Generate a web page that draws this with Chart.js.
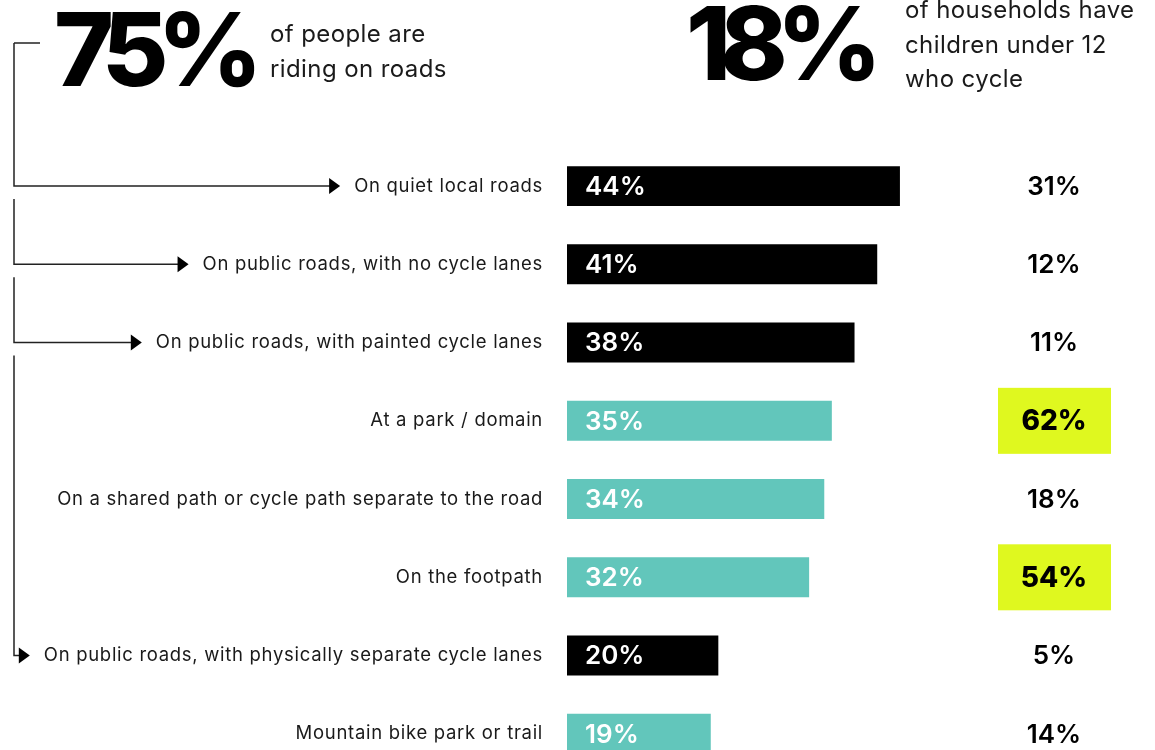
<!DOCTYPE html>
<html lang="en">
<head>
  <meta charset="UTF-8" />
  <title>Where people ride</title>
  <script src="https://cdn.jsdelivr.net/npm/chart.js@4.4.0/dist/chart.umd.min.js"></script>
  <style>
    * { margin: 0; padding: 0; box-sizing: border-box; }
    html, body { width: 1155px; height: 750px; overflow: hidden; background: #fff; font-family: 'Inter', 'Lato', sans-serif; color: #111; }
    #wrap { position: relative; width: 1155px; height: 808px; }
    canvas { position: absolute; left: 0; top: 0; }
    .big { position: absolute; font-size: 102px; font-weight: 800; line-height: 1; letter-spacing: -11px; color: #000; }
    .sub { position: absolute; font-size: 24px; line-height: 34.5px; letter-spacing: 0.4px; color: #1a1a1a; }
  </style>
</head>
<body>
  <div id="wrap">
    <canvas id="chart" width="1155" height="808"></canvas>
    <div class="big" style="left:54px; top:-2px;">75%</div>
    <div class="sub" style="left:270px; top:17px;">of people are<br>riding on roads</div>
    <div class="big" style="left:686px; top:-8px;">18%</div>
    <div class="sub" style="left:905px; top:-7px;">of households have<br>children under 12<br>who cycle</div>
  </div>

  <script>
    const categories = [
      "On quiet local roads",
      "On public roads, with no cycle lanes",
      "On public roads, with painted cycle lanes",
      "At a park / domain",
      "On a shared path or cycle path separate to the road",
      "On the footpath",
      "On public roads, with physically separate cycle lanes",
      "Mountain bike park or trail"
    ];
    const peopleRiding = [44, 41, 38, 35, 34, 32, 20, 19];
    const childrenCycling = [31, 12, 11, 62, 18, 54, 5, 14];
    const onRoad = [true, true, true, false, false, false, true, false];
    const highlighted = [false, false, false, true, false, true, false, false];

    const BLACK = "#000000";
    const TEAL = "#62c6bb";
    const LIME = "#dff81f";
    const LABEL_SIZE = 18.5;
    const LABEL_SPACING = "0.7px";

    function arrow(ctx, tipX, y) {
      ctx.beginPath();
      ctx.moveTo(tipX, y);
      ctx.lineTo(tipX - 11, y - 8);
      ctx.lineTo(tipX - 11, y + 8);
      ctx.closePath();
      ctx.fill();
    }

    const annotations = {
      id: "annotations",
      beforeDraw(chart) {
        chart.ctx.letterSpacing = LABEL_SPACING;
      },
      afterDatasetsDraw(chart) {
        const ctx = chart.ctx;
        const meta = chart.getDatasetMeta(0);
        const yScale = chart.scales.y;

        ctx.save();
        ctx.letterSpacing = "0px";
        // values inside bars
        ctx.textBaseline = "middle";
        ctx.textAlign = "left";
        ctx.fillStyle = "#fff";
        ctx.font = "600 26px Inter, Lato, sans-serif";
        meta.data.forEach((bar, i) => {
          const p = bar.getProps(["x", "y", "base"], true);
          ctx.fillText(peopleRiding[i] + "%", p.base + 18, p.y + 1);
        });

        // right column: households with children
        const colX = chart.chartArea.right + 33;
        meta.data.forEach((bar, i) => {
          const y = bar.getProps(["y"], true).y;
          ctx.textAlign = "center";
          if (highlighted[i]) {
            ctx.fillStyle = LIME;
            ctx.fillRect(colX - 56, y - 33, 113, 66);
            ctx.fillStyle = "#000";
            ctx.font = "800 28px Inter, Lato, sans-serif";
          } else {
            ctx.fillStyle = "#000";
            ctx.font = "600 26px Inter, Lato, sans-serif";
          }
          ctx.fillText(childrenCycling[i] + "%", colX, y + 1);
        });

        // bracket lines from the 75% figure to the road rows
        ctx.strokeStyle = "#222";
        ctx.fillStyle = "#000";
        ctx.lineWidth = 1.5;
        ctx.font = LABEL_SIZE + "px Inter, Lato, sans-serif";
        ctx.letterSpacing = LABEL_SPACING;
        const lineX = 14;
        let startY = 43;
        ctx.beginPath();
        ctx.moveTo(40, startY);
        ctx.lineTo(lineX, startY);
        ctx.stroke();
        const roadRows = onRoad.map((r, i) => r ? i : -1).filter(i => i >= 0);
        roadRows.forEach((i, k) => {
          const y = yScale.getPixelForValue(i);
          const labelLeft = chart.chartArea.left - 24 - ctx.measureText(categories[i]).width;
          const tipX = labelLeft - 14;
          ctx.beginPath();
          ctx.moveTo(lineX, k === 0 ? startY : startY + 13);
          ctx.lineTo(lineX, y);
          ctx.lineTo(tipX - 10, y);
          ctx.stroke();
          arrow(ctx, tipX, y);
          startY = y;
        });
        ctx.restore();
      }
    };

    new Chart(document.getElementById("chart"), {
      type: "bar",
      data: {
        labels: categories,
        datasets: [{
          data: peopleRiding,
          backgroundColor: onRoad.map(r => r ? BLACK : TEAL),
          barPercentage: 0.511,
          categoryPercentage: 1
        }]
      },
      options: {
        indexAxis: "y",
        responsive: false,
        animation: false,
        layout: { padding: { top: 147, bottom: 0, left: 0, right: 134 } },
        plugins: {
          legend: { display: false },
          tooltip: { enabled: false }
        },
        scales: {
          x: { display: false, min: 0, max: 60 },
          y: {
            afterFit(scale) { scale.width = 567; },
            grid: { display: false, drawTicks: false },
            border: { display: false },
            ticks: {
              padding: 24,
              color: "#1a1a1a",
              font: { family: "Inter, Lato, sans-serif", size: LABEL_SIZE }
            }
          }
        }
      },
      plugins: [annotations]
    });
  </script>
</body>
</html>
